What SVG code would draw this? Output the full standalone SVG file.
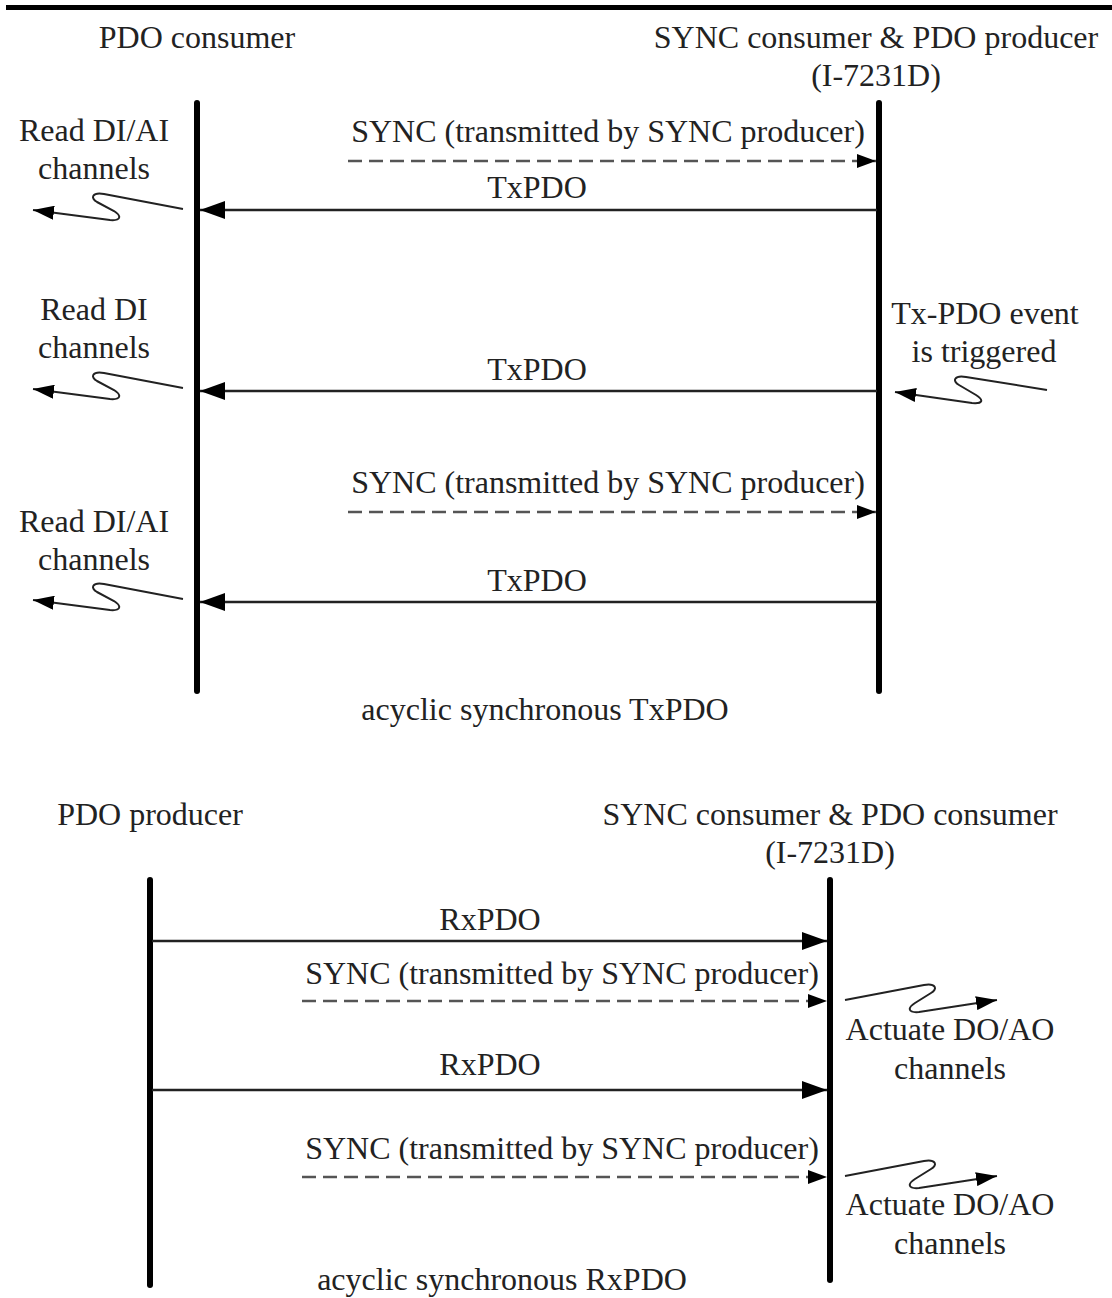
<svg xmlns="http://www.w3.org/2000/svg" width="1112" height="1298" viewBox="0 0 1112 1298">
<defs>
<style>
text{font-family:"Liberation Serif","Times New Roman",serif;font-size:32px;fill:#222;text-anchor:middle}
.life{stroke:#000;stroke-width:6;stroke-linecap:round;fill:none}
.msg{stroke:#222;stroke-width:2.5;fill:none}
.dash{stroke:#555;stroke-width:2.5;stroke-dasharray:14 7;fill:none}
.sq{stroke:#222;stroke-width:2;fill:none}
</style>
<marker id="ah" markerUnits="userSpaceOnUse" markerWidth="26" markerHeight="18" refX="25" refY="9" orient="auto"><path d="M0,0 L25,9 L0,18 z" fill="#000"/></marker>
<marker id="ahd" markerUnits="userSpaceOnUse" markerWidth="20" markerHeight="14" refX="19" refY="7" orient="auto"><path d="M0,0 L19,7 L0,14 z" fill="#000"/></marker>
<marker id="ahs" markerUnits="userSpaceOnUse" markerWidth="22" markerHeight="14" refX="21" refY="7" orient="auto"><path d="M0,0 L21,7 L0,14 z" fill="#000"/></marker>
</defs>
<rect width="1112" height="1298" fill="#fff"/>
<rect x="6" y="5" width="1106" height="5" fill="#000"/>

<g id="pdo-consumer"><text x="197" y="48">PDO consumer</text><line class="life" x1="197" y1="103" x2="197" y2="691"/></g>
<g id="sync-consumer-pdo-producer"><text x="876" y="48">SYNC consumer &amp; PDO producer</text><text x="876" y="86">(I-7231D)</text><line class="life" x1="879" y1="103" x2="879" y2="691"/></g>
<g id="note-read1"><text x="94" y="141">Read DI/AI</text><text x="94" y="179">channels</text></g>
<g id="note-read2"><text x="94" y="320">Read DI</text><text x="94" y="358">channels</text></g>
<g id="note-event"><text x="985" y="324">Tx-PDO event</text><text x="984" y="362">is triggered</text></g>
<g id="note-read3"><text x="94" y="532">Read DI/AI</text><text x="94" y="570">channels</text></g>
<g id="caption-tx"><text x="545" y="720">acyclic synchronous TxPDO</text></g>

<g id="pdo-producer"><text x="150" y="825">PDO producer</text><line class="life" x1="150" y1="880" x2="150" y2="1285"/></g>
<g id="sync-consumer-pdo-consumer"><text x="830" y="825">SYNC consumer &amp; PDO consumer</text><text x="830" y="863">(I-7231D)</text><line class="life" x1="830" y1="880" x2="830" y2="1280"/></g>
<g id="note-actuate1"><text x="950" y="1040">Actuate DO/AO</text><text x="950" y="1079">channels</text></g>
<g id="note-actuate2"><text x="950" y="1215">Actuate DO/AO</text><text x="950" y="1254">channels</text></g>
<g id="caption-rx"><text x="502" y="1290">acyclic synchronous RxPDO</text></g>

<g id="connectors">
<text x="608" y="142">SYNC (transmitted by SYNC producer)</text>
<line class="dash" x1="348" y1="161" x2="876" y2="161" marker-end="url(#ahd)"/>
<text x="537" y="198">TxPDO</text>
<line class="msg" x1="877" y1="210" x2="200" y2="210" marker-end="url(#ah)"/>
<path class="sq" d="M183,209 L104,194 C92,192 90,198 97,202 L114,211 C122,216 121,221 110,220 L33,210" marker-end="url(#ahs)"/>

<text x="537" y="380">TxPDO</text>
<line class="msg" x1="877" y1="391" x2="200" y2="391" marker-end="url(#ah)"/>
<path class="sq" d="M183,388 L104,373 C92,371 90,377 97,381 L114,390 C122,395 121,400 110,399 L33,389" marker-end="url(#ahs)"/>
<path class="sq" d="M1047,390 L966,377 C954,375 952,381 959,385 L976,395 C984,400 983,404 972,403 L895,392" marker-end="url(#ahs)"/>

<text x="608" y="493">SYNC (transmitted by SYNC producer)</text>
<line class="dash" x1="348" y1="512" x2="876" y2="512" marker-end="url(#ahd)"/>
<text x="537" y="591">TxPDO</text>
<line class="msg" x1="877" y1="602" x2="200" y2="602" marker-end="url(#ah)"/>
<path class="sq" d="M183,599 L104,584 C92,582 90,588 97,592 L114,601 C122,606 121,611 110,610 L33,600" marker-end="url(#ahs)"/>

<text x="490" y="930">RxPDO</text>
<line class="msg" x1="152" y1="941" x2="827" y2="941" marker-end="url(#ah)"/>
<text x="562" y="984">SYNC (transmitted by SYNC producer)</text>
<line class="dash" x1="302" y1="1001" x2="827" y2="1001" marker-end="url(#ahd)"/>
<path class="sq" d="M845,1000 L924,985 C936,983 938,989 931,993 L915,1003 C907,1008 908,1013 919,1012 L997,1000" marker-end="url(#ahs)"/>
<text x="490" y="1075">RxPDO</text>
<line class="msg" x1="152" y1="1090" x2="827" y2="1090" marker-end="url(#ah)"/>
<text x="562" y="1159">SYNC (transmitted by SYNC producer)</text>
<line class="dash" x1="302" y1="1177" x2="827" y2="1177" marker-end="url(#ahd)"/>
<path class="sq" d="M845,1176 L924,1161 C936,1159 938,1165 931,1169 L915,1179 C907,1184 908,1189 919,1188 L997,1176" marker-end="url(#ahs)"/>
</g>
</svg>
